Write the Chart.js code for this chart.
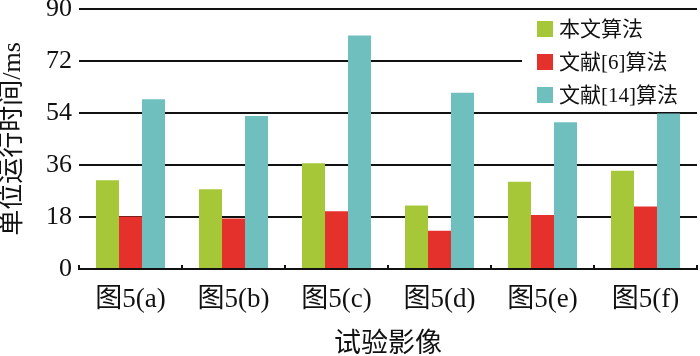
<!DOCTYPE html>
<html><head><meta charset="utf-8">
<script src="https://cdn.jsdelivr.net/npm/chart.js@4/dist/chart.umd.min.js"></script>
<style>html,body{margin:0;padding:0;background:#fff}#wrap{width:700px;height:356px}</style>
</head><body><div id="wrap"><canvas id="c" width="700" height="356"></canvas></div>
<script>
const categories = ["图5(a)","图5(b)","图5(c)","图5(d)","图5(e)","图5(f)"];
const seriesNames = ["本文算法","文献[6]算法","文献[14]算法"];
const oursValues = [30.7, 27.6, 36.6, 22.0, 30.2, 34.0];
const ref6Values = [18.2, 17.5, 20.0, 13.2, 18.7, 21.6];
const ref14Values = [58.8, 53.0, 80.8, 61.0, 50.8, 53.8];
const yTicks = [0, 18, 36, 54, 72, 90];
const xTitle = "试验影像";
const yTitle = "单位运行时间/ms";

const colors = ['#a6c838', '#e4312c', '#70bfbf'];
const FONT = '"Liberation Serif","Noto Sans CJK SC",serif';

const legendPlugin = {
  id: 'customLegend',
  afterDraw(chart) {
    const ctx = chart.ctx;
    ctx.save();
    ctx.fillStyle = '#fff';
    ctx.fillRect(522, 15, 178, 94);
    ctx.font = '21px ' + FONT;
    ctx.textBaseline = 'middle';
    chart.data.datasets.forEach((ds, i) => {
      const cy = 29 + i * 33;
      ctx.fillStyle = ds.backgroundColor;
      ctx.fillRect(537, cy - 8, 16, 16);
      ctx.fillStyle = '#111';
      ctx.fillText(ds.label, 559, cy + 1);
    });
    ctx.restore();
  }
};

const xTickPlugin = {
  id: 'xBoundaryTicks',
  afterDatasetsDraw(chart) {
    const x = chart.scales.x, y = chart.scales.y;
    const ctx = chart.ctx;
    const y0 = y.getPixelForValue(0);
    const n = categories.length;
    const step = (x.getPixelForValue(1) - x.getPixelForValue(0));
    ctx.save();
    ctx.strokeStyle = '#111';
    ctx.lineWidth = 2;
    for (let i = 0; i <= n; i++) {
      const px = x.getPixelForValue(0) - step / 2 + i * step;
      ctx.beginPath();
      ctx.moveTo(px, y0);
      ctx.lineTo(px, y0 - 4);
      ctx.stroke();
    }
    ctx.restore();
  }
};

new Chart(document.getElementById('c'), {
  type: 'bar',
  data: {
    labels: categories,
    datasets: [
      { label: seriesNames[0], data: oursValues, backgroundColor: colors[0] },
      { label: seriesNames[1], data: ref6Values, backgroundColor: colors[1] },
      { label: seriesNames[2], data: ref14Values, backgroundColor: colors[2] }
    ]
  },
  options: {
    responsive: false,
    animation: false,
    layout: { padding: { top: 9, right: 3, left: 0, bottom: 0 } },
    datasets: { bar: { categoryPercentage: 0.67, barPercentage: 1.0, borderWidth: 0 } },
    plugins: { legend: { display: false }, tooltip: { enabled: false } },
    scales: {
      x: {
        grid: { display: false, drawTicks: false },
        border: { display: true, color: '#111', width: 2 },
        ticks: { color: '#111', font: { family: FONT, size: 27 }, padding: 15, maxRotation: 0 },
        title: { display: true, text: xTitle, color: '#111', font: { family: FONT, size: 27, lineHeight: 0.85 }, padding: { top: 0, bottom: 0 } },
        afterFit(s) { s.height = 87; }
      },
      y: {
        min: 0, max: 90,
        afterBuildTicks(s) { s.ticks = yTicks.map(v => ({ value: v })); },
        grid: { color: '#111', lineWidth: 2, drawTicks: false },
        border: { display: false },
        ticks: { color: '#111', font: { family: FONT, size: 26, lineHeight: 0.1 }, padding: 7 },
        title: { display: true, text: yTitle, color: '#111', font: { family: FONT, size: 26, lineHeight: 1.0 }, padding: { top: 0, bottom: 0 } },
        afterFit(s) { s.width = 79; }
      }
    }
  },
  plugins: [xTickPlugin, legendPlugin]
});
</script>
</body></html>
